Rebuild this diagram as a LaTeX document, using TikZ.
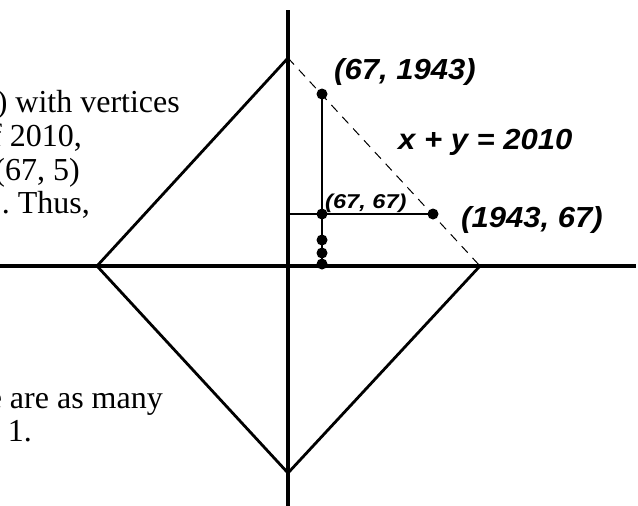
\documentclass[tikz,border=0pt]{standalone}
\usepackage{fontspec}
\setmainfont{Liberation Serif}
\newfontfamily\labfont{Liberation Sans}
\begin{document}
\begin{tikzpicture}[x=1pt,y=-1pt,
  axis/.style={line width=3.2pt},
  edge/.style={line width=2.8pt},
  guide/.style={line width=1pt, dash pattern=on 9pt off 7pt},
  dot/.style={circle, fill=black, inner sep=0pt, minimum size=11pt},
  body/.style={font=\fontsize{32}{34}\selectfont, anchor=base east, inner sep=0pt},
  lab/.style={font=\labfont\bfseries\itshape\fontsize{29}{31}\selectfont, anchor=base west, inner sep=0pt},
  smalllab/.style={font=\labfont\bfseries\itshape\fontsize{20}{22}\selectfont, anchor=base west, inner sep=0pt}]
\useasboundingbox (0,0) rectangle (638,506);
\clip (0,0) rectangle (638,506);
% body text (clipped paragraph)
\node[body] (t1) at (180,112) {) with vertices};
\node[body] (t2) at (82,146) {f 2010,};
\node[body] (t3) at (80,180) {(67, 5)};
\node[body] (t4) at (90,213) {.\ Thus,};
\node[body] (t5) at (163,408) {e are as many};
\node[body] (t6) at (32,441) {t 1.};
% geometry
\coordinate (T) at (288,58);
\coordinate (L) at (97,266);
\coordinate (B) at (288,473);
\coordinate (R) at (480,266);
\coordinate (axT) at (288,10);
\coordinate (axB) at (288,506);
\coordinate (axL) at (0,266);
\coordinate (axR) at (636,266);
\coordinate (foot) at (322,266);
\coordinate (yax) at (288,214);
\draw[axis] (axT) -- (axB);
\draw[axis] (axL) -- (axR);
\draw[edge, line join=miter] (T) -- (L) -- (B) -- (R);
\draw[guide] (T) -- (R);
\node[dot] (p1) at (322,94) {};
\node[dot] (p2) at (322,214) {};
\node[dot] (p3) at (433,214) {};
\node[dot] (p4) at (322,240) {};
\node[dot] (p5) at (322,253) {};
\node[dot] (p6) at (322,264) {};
\draw[edge] (p1.center) -- (foot);
\draw[edge] (yax) -- (p3.center);
% labels
\node[lab] (l1) at (334,79) {\scalebox{1.07}[1]{(67, 1943)}};
\node[lab] (l2) at (398,149) {\scalebox{1.07}[1]{x + y = 2010}};
\node[lab] (l3) at (461,227) {\scalebox{1.07}[1]{(1943, 67)}};
\node[smalllab] (l4) at (325,208) {\scalebox{1.18}[1]{(67, 67)}};
\end{tikzpicture}
\end{document}
